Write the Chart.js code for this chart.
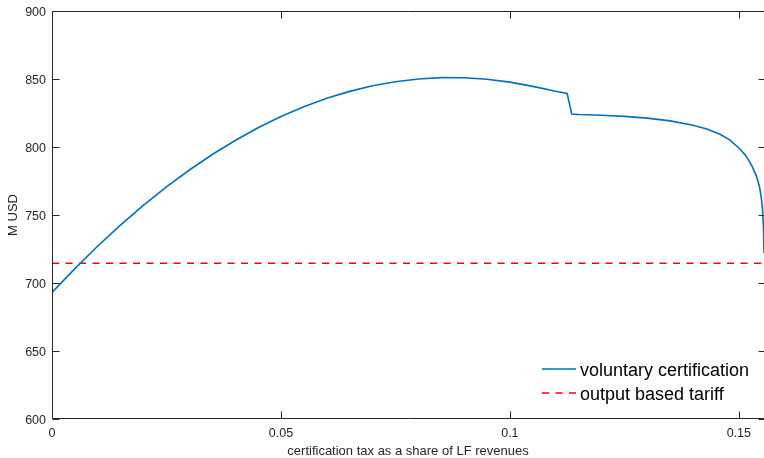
<!DOCTYPE html>
<html>
<head>
<meta charset="utf-8">
<script src="https://cdn.jsdelivr.net/npm/chart.js@4/dist/chart.umd.min.js"></script>
<style>
  html, body { margin: 0; padding: 0; background: #fff; }
  #wrap { width: 764px; height: 458px; }
</style>
</head>
<body>
<div id="wrap"><canvas id="chart" width="764" height="458"></canvas></div>
<script>
// certification tax as a share of LF revenues
const taxShare = [
  0, 0.005, 0.01, 0.015, 0.02, 0.025, 0.03, 0.035, 0.04, 0.045,
  0.05, 0.055, 0.06, 0.065, 0.07, 0.075, 0.08, 0.085, 0.09, 0.095,
  0.1, 0.105, 0.11, 0.1125, 0.1135, 0.115, 0.12, 0.125, 0.13, 0.135,
  0.14, 0.143, 0.146, 0.148, 0.15, 0.1515, 0.1528, 0.1538, 0.1545, 0.1549,
  0.1552, 0.1554, 0.1555,
];
// M USD
const voluntaryValues = [
  693, 710.6, 727.2, 742.8, 757.3, 770.7, 783.1, 794.5, 804.8, 814.1,
  822.4, 829.6, 835.8, 840.9, 845, 848, 850, 851, 850.9, 849.8,
  847.7, 844.6, 841, 839.4, 824.2, 823.9, 823.3, 822.5, 821.2, 819.2,
  816, 813.3, 809.2, 805.2, 799.3, 793.8, 786.5, 779, 771, 763,
  753, 740, 722,
];
const tariffValue = 714.5;

const xTicks = [0, 0.05, 0.1, 0.15];
const yTicks = [600, 650, 700, 750, 800, 850, 900];
const xRange = [0, 0.1555];
const yRange = [600, 900];

const FONT = '"Liberation Sans", Arial, Helvetica, sans-serif';
const AXIS_COLOR = '#262626';

// MATLAB-style box with inward ticks plus legend in the lower right
const axesBox = {
  id: 'axesBox',
  afterDraw(chart) {
    const { ctx, chartArea: a, scales: { x, y } } = chart;
    const L = Math.round(a.left) + 0.5;
    const T = Math.round(a.top) + 0.5;
    const B = Math.round(a.bottom) - 0.5;
    const R = Math.round(a.right) - 0.5;
    const tl = 7;
    ctx.save();
    ctx.strokeStyle = AXIS_COLOR;
    ctx.lineWidth = 1;
    ctx.beginPath();
    ctx.moveTo(L, T); ctx.lineTo(R + 2, T);
    ctx.moveTo(L, T); ctx.lineTo(L, B);
    ctx.moveTo(L, B); ctx.lineTo(R + 2, B);
    yTicks.forEach(v => {
      const py = Math.round(y.getPixelForValue(v)) + 0.5;
      ctx.moveTo(L, py); ctx.lineTo(L + tl, py);
      ctx.moveTo(R + 2, py); ctx.lineTo(R + 2 - tl, py);
    });
    xTicks.forEach(v => {
      const px = Math.round(x.getPixelForValue(v)) + 0.5;
      ctx.moveTo(px, B); ctx.lineTo(px, B - tl);
      ctx.moveTo(px, T); ctx.lineTo(px, T + tl);
    });
    ctx.stroke();

    // legend
    const lx0 = a.right - 222, lx1 = a.right - 188, tx = a.right - 184;
    const ly = [a.bottom - 50, a.bottom - 26];
    ctx.font = '18px ' + FONT;
    ctx.textBaseline = 'middle';
    ctx.textAlign = 'left';
    chart.data.datasets.forEach((ds, i) => {
      ctx.beginPath();
      ctx.strokeStyle = ds.borderColor;
      ctx.lineWidth = ds.borderWidth;
      ctx.setLineDash(ds.borderDash || []);
      ctx.moveTo(lx0, ly[i]); ctx.lineTo(lx1, ly[i]);
      ctx.stroke();
      ctx.setLineDash([]);
      ctx.fillStyle = '#000';
      ctx.fillText(ds.label, tx, ly[i] + 2);
    });
    ctx.restore();
  },
};

const ctxEl = document.getElementById('chart');

const chart = new Chart(ctxEl, {
  type: 'line',
  data: {
    datasets: [
      {
        label: 'voluntary certification',
        data: taxShare.map((t, i) => ({ x: t, y: voluntaryValues[i] })),
        borderColor: '#0072BD',
        borderWidth: 1.6,
        pointRadius: 0,
        tension: 0,
        fill: false,
      },
      {
        label: 'output based tariff',
        data: [{ x: xRange[0], y: tariffValue }, { x: xRange[1], y: tariffValue }],
        borderColor: '#FF0000',
        borderWidth: 1.6,
        borderDash: [7, 6.5],
        pointRadius: 0,
        fill: false,
      },
    ],
  },
  options: {
    responsive: false,
    animation: false,
    devicePixelRatio: 1,
    layout: { padding: { top: 11, right: 0, left: 0, bottom: 0 } },
    plugins: {
      legend: { display: false },
      tooltip: { enabled: false },
    },
    scales: {
      x: {
        type: 'linear',
        min: xRange[0],
        max: xRange[1],
        afterBuildTicks: s => { s.ticks = xTicks.map(v => ({ value: v })); },
        afterFit: s => { s.height = 39; s.paddingRight = 0; },
        grid: { display: false, drawTicks: false },
        border: { display: false },
        ticks: {
          padding: 7,
          color: AXIS_COLOR,
          font: { family: FONT, size: 12.5 },
          maxRotation: 0,
          callback: v => String(v),
        },
        title: {
          display: true,
          text: 'certification tax as a share of LF revenues',
          color: AXIS_COLOR,
          font: { family: FONT, size: 13, lineHeight: 1 },
          padding: { top: 0, bottom: 0 },
        },
      },
      y: {
        min: yRange[0],
        max: yRange[1],
        afterBuildTicks: s => { s.ticks = yTicks.map(v => ({ value: v })); },
        afterFit: s => { s.width = 52; s.paddingTop = 0; s.paddingBottom = 0; },
        grid: { display: false, drawTicks: false },
        border: { display: false },
        ticks: {
          padding: 6,
          labelOffset: 1.5,
          color: AXIS_COLOR,
          font: { family: FONT, size: 12.5 },
          callback: v => String(v),
        },
        title: {
          display: true,
          text: 'M USD',
          color: AXIS_COLOR,
          font: { family: FONT, size: 13 },
          padding: { top: 6, bottom: 0 },
        },
      },
    },
  },
  plugins: [axesBox],
});
</script>
</body>
</html>
